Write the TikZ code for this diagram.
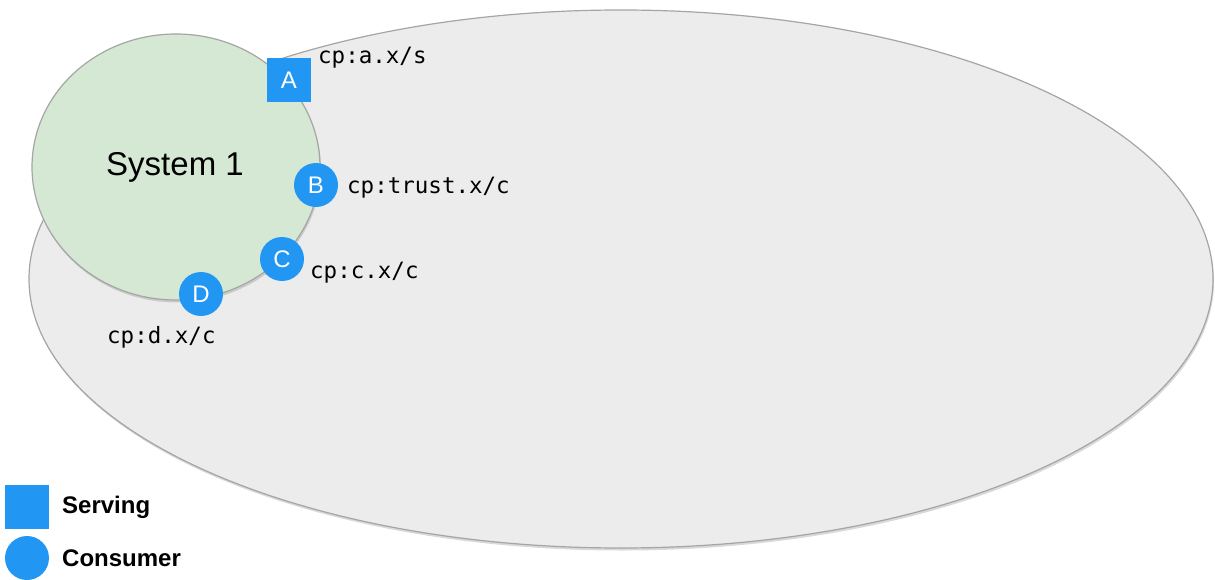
\documentclass[tikz,border=0pt]{standalone}
\usepackage{fontspec}
\setmainfont{Liberation Sans}
\setmonofont{DejaVu Sans Mono}
\usetikzlibrary{shadows,shapes.geometric}
\definecolor{ubblue}{RGB}{33,150,243}
\definecolor{regionfill}{RGB}{236,236,236}
\definecolor{regionline}{RGB}{165,165,165}
\definecolor{sysfill}{RGB}{213,232,212}
\tikzset{
  region/.style={ellipse, fill=regionfill, draw=regionline, line width=1.2pt,
    drop shadow={opacity=0.3, shadow xshift=1pt, shadow yshift=-2.5pt}},
  sysbox/.style={ellipse, fill=sysfill, draw=regionline, line width=1.2pt,
    drop shadow={opacity=0.3, shadow xshift=1pt, shadow yshift=-2.5pt}},
  serving/.style={rectangle, fill=ubblue, minimum size=44pt, inner sep=0pt, text=white, font=\fontsize{24}{26}\selectfont},
  consumer/.style={circle, fill=ubblue, minimum size=44pt, inner sep=0pt, text=white, font=\fontsize{24}{26}\selectfont},
  cplabel/.style={anchor=west, inner sep=0pt, font=\ttfamily\fontsize{22.5}{25}\selectfont},
  legendtext/.style={anchor=west, inner sep=0pt, font=\bfseries\fontsize{24}{26}\selectfont},
}
\begin{document}
\begin{tikzpicture}[x=1pt,y=-1pt]
\useasboundingbox (0,0) rectangle (1215,580);
\node[region, minimum width=1184pt, minimum height=538pt] (world) at (621,279) {};
\node[sysbox, minimum width=288pt, minimum height=266pt] (sys) at (176,167) {};
\node[font=\fontsize{33}{35}\selectfont] (systext) at (175,167) {System 1};
\node[serving] (A) at (289,80) {A};
\node[consumer] (B) at (316,185) {B};
\node[consumer] (C) at (282,259) {C};
\node[consumer] (D) at (201,294) {D};
\node[cplabel] (la) at (318,58) {cp:a.x/s};
\node[cplabel] (lb) at (347,188) {cp:trust.x/c};
\node[cplabel] (lc) at (310,273) {cp:c.x/c};
\node[cplabel] (ld) at (107,337) {cp:d.x/c};
\node[serving] (legs) at (27,507) {};
\node[consumer] (legc) at (27,558) {};
\node[legendtext] (legst) at (62,507) {Serving};
\node[legendtext] (legct) at (62,558) {Consumer};
\end{tikzpicture}
\end{document}
